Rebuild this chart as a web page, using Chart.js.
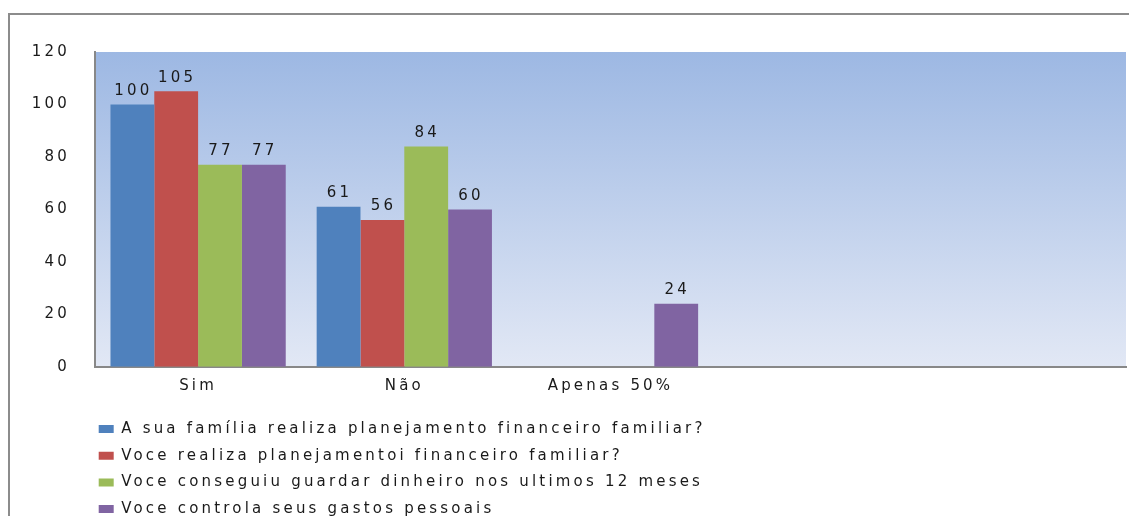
<!DOCTYPE html>
<html>
<head>
<meta charset="utf-8">
<script src="https://cdn.jsdelivr.net/npm/chart.js@4.4.0/dist/chart.umd.min.js"></script>
<style>
  html, body { margin: 0; padding: 0; background: #fff; }
  #wrap { width: 1129px; height: 516px; position: relative; }
</style>
</head>
<body>
<div id="wrap"><canvas id="myBarChart"></canvas></div>
<script>
var categories = ['Sim', 'Não', 'Apenas 50%', '', ''];
var familiaPlaneja = [100, 61, null, null, null];
var vocePlaneja = [105, 56, null, null, null];
var guardouDinheiro = [77, 84, null, null, null];
var controlaGastos = [77, 60, 24, null, null];
var seriesNames = [
  'A sua família realiza planejamento financeiro familiar?',
  'Voce realiza planejamentoi financeiro familiar?',
  'Voce conseguiu guardar dinheiro nos ultimos 12 meses',
  'Voce controla seus gastos pessoais'
];
var yTicks = [0, 20, 40, 60, 80, 100, 120];

var FONT = { family: 'DejaVu Sans', size: 15 };
var SPACING = '3.2px';
var TEXT = '#1a1a1a';
var LEGEND_X = 87;
var LEGEND_R = 900; // narrow legend box so each entry gets its own row

// letter spacing, frame, plot gradient, value labels, legend shift
var stylePlugin = {
  id: 'style',
  beforeUpdate: function(chart) { chart.ctx.letterSpacing = SPACING; },
  beforeLayout: function(chart) {
    chart.ctx.letterSpacing = SPACING;
    var lg = chart.legend;
    if (lg && !lg._shiftPatched) {
      lg._shiftPatched = true;
      var fit = lg.fit;
      lg.fit = function() {
        var mw = this.maxWidth;
        this.maxWidth = LEGEND_R - LEGEND_X;
        fit.call(this);
        this.maxWidth = mw;
        this.width = mw;
      };
    }
  },
  afterLayout: function(chart) {
    chart.legend.left = LEGEND_X;
    chart.legend.right = LEGEND_R;
  },
  beforeDraw: function(chart) {
    var ctx = chart.ctx, a = chart.chartArea;
    ctx.letterSpacing = SPACING;
    ctx.save();
    ctx.strokeStyle = '#8c8c8c';
    ctx.lineWidth = 2;
    ctx.beginPath();
    ctx.moveTo(9, 520);
    ctx.lineTo(9, 14);
    ctx.lineTo(1135, 14);
    ctx.stroke();
    var g = ctx.createLinearGradient(0, a.top, 0, a.bottom);
    g.addColorStop(0, '#9db8e3');
    g.addColorStop(1, '#e2e8f5');
    ctx.fillStyle = g;
    ctx.fillRect(a.left, a.top, a.right - a.left, a.bottom - a.top);
    ctx.restore();
  },
  afterDatasetsDraw: function(chart) {
    var ctx = chart.ctx;
    ctx.save();
    ctx.font = FONT.size + 'px ' + FONT.family;
    ctx.fillStyle = TEXT;
    ctx.textAlign = 'center';
    ctx.textBaseline = 'bottom';
    chart.data.datasets.forEach(function(ds, i) {
      chart.getDatasetMeta(i).data.forEach(function(bar, j) {
        if (ds.data[j] == null) return;
        ctx.fillText(String(ds.data[j]), bar.x + 1, bar.y - 6);
      });
    });
    ctx.restore();
  }
};

var ctx = document.getElementById("myBarChart").getContext('2d');
var myBarChart = new Chart(ctx, {
  type: 'bar',
  data: {
    labels: categories,
    datasets: [
      { label: seriesNames[0], data: familiaPlaneja, backgroundColor: '#4f81bd' },
      { label: seriesNames[1], data: vocePlaneja, backgroundColor: '#c0504d' },
      { label: seriesNames[2], data: guardouDinheiro, backgroundColor: '#9bbb59' },
      { label: seriesNames[3], data: controlaGastos, backgroundColor: '#8064a2' }
    ]
  },
  plugins: [stylePlugin],
  options: {
    responsive: true,
    maintainAspectRatio: false,
    animation: false,
    devicePixelRatio: 1,
    layout: { padding: { top: 52, right: 3, left: 0, bottom: -10.6 } },
    datasets: { bar: { categoryPercentage: 0.85, barPercentage: 1.0 } },
    plugins: {
      tooltip: { enabled: false },
      legend: {
        position: 'bottom',
        align: 'start',
        labels: {
          font: FONT,
          color: TEXT,
          boxWidth: 15,
          boxHeight: 8,
          padding: 11.7
        }
      }
    },
    scales: {
      x: {
        afterFit: function(s) { s.height = 43; },
        grid: { display: false, drawTicks: false },
        border: { color: '#888', width: 2 },
        ticks: { font: FONT, color: TEXT, padding: 10 }
      },
      y: {
        min: 0,
        max: 120,
        afterFit: function(s) { s.width = 95; },
        afterBuildTicks: function(s) { s.ticks = yTicks.map(function(v) { return { value: v }; }); },
        grid: { display: false, drawTicks: false },
        border: { color: '#888', width: 2 },
        ticks: { font: FONT, color: TEXT, padding: 25 }
      }
    }
  }
});
</script>
</body>
</html>
